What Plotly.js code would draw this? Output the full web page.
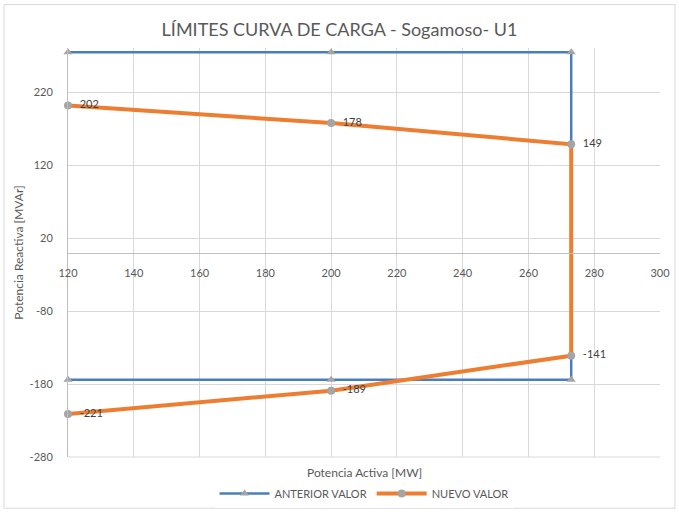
<!DOCTYPE html>
<html>
<head>
<meta charset="utf-8">
<script src="https://cdn.plot.ly/plotly-3.0.1.min.js"></script>
<style>
html,body{margin:0;padding:0;background:#fff;}
#chart{width:679px;height:520px;}
</style>
</head>
<body>
<div id="chart"></div>
<script>
// Data
const anteriorP = [120, 200, 273, 273, 200, 120];
const anteriorQ = [275, 275, 275, -174, -174, -174];
const nuevoP = [120, 200, 273, 273, 200, 120];
const nuevoQ = [202, 178, 149, -141, -189, -221];
const nuevoLabels = ["202", "178", "149", "-141", "-189", "-221"];
const seriesNames = ["ANTERIOR VALOR", "NUEVO VALOR"];
const xTicks = [120, 140, 160, 180, 200, 220, 240, 260, 280, 300];
const yTicks = [-280, -180, -80, 20, 120, 220];

const FONT = "Lato, 'Open Sans', sans-serif";
const W = 679, H = 520;
const m = {l: 68, r: 19, t: 48, b: 57};
const pw = W - m.l - m.r, ph = H - m.t - m.b;
const yRange = [-280, 281];
const zeroFrac = (0 - yRange[0]) / (yRange[1] - yRange[0]);

const traces = [
  {
    x: anteriorP, y: anteriorQ, name: seriesNames[0], type: 'scatter', mode: 'lines+markers',
    line: {color: '#4A7EBB', width: 2.5},
    marker: {symbol: 'triangle-up', size: 8, color: '#A5A5A5'},
    cliponaxis: false
  },
  {
    x: nuevoP, y: nuevoQ, name: seriesNames[1], type: 'scatter', mode: 'lines+markers+text',
    line: {color: '#ED7D31', width: 4},
    marker: {symbol: 'circle', size: 8, color: '#A5A5A5'},
    text: nuevoLabels.map(s => '  ' + s), textposition: 'middle right',
    textfont: {family: FONT, size: 11, color: '#404040'},
    cliponaxis: false
  }
];

const layout = {
  width: W, height: H,
  margin: m,
  paper_bgcolor: '#fff', plot_bgcolor: '#fff',
  font: {family: FONT, color: '#595959', size: 11},
  title: {text: 'LÍMITES CURVA DE CARGA - Sogamoso- U1', font: {family: FONT, size: 18, color: '#595959'}, x: 0.5, xanchor: 'center', y: 1 - 30/H, yanchor: 'middle'},
  xaxis: {
    range: [120, 300], tickvals: xTicks, ticktext: xTicks.map(String),
    anchor: 'free', position: zeroFrac,
    showgrid: true, gridcolor: '#D9D9D9', gridwidth: 1,
    showline: true, linecolor: '#BFBFBF', linewidth: 1,
    zeroline: false, ticks: '', ticklen: 0, ticklabelstandoff: 10,
    tickfont: {family: FONT, size: 11, color: '#595959'},
    fixedrange: true
  },
  yaxis: {
    range: yRange, tickvals: yTicks, ticktext: yTicks.map(String),
    showgrid: true, gridcolor: '#D9D9D9', gridwidth: 1,
    showline: true, linecolor: '#BFBFBF', linewidth: 1,
    zeroline: false, ticks: '', ticklabelstandoff: 12,
    tickfont: {family: FONT, size: 11, color: '#595959'},
    title: {text: 'Potencia Reactiva [MVAr]', font: {family: FONT, size: 12, color: '#595959'}, standoff: 3},
    fixedrange: true
  },
  showlegend: true,
  legend: {orientation: 'h', x: 0.5, xanchor: 'center', y: -(500 - m.t - ph)/ph, yanchor: 'middle',
           font: {family: FONT, size: 11, color: '#595959'}, itemwidth: 50, tracegroupgap: 0},
  annotations: [
    {text: 'Potencia Activa [MW]', xref: 'paper', yref: 'paper', x: 0.5, y: -(479 - m.t - ph)/ph,
     xanchor: 'center', yanchor: 'middle', showarrow: false, font: {family: FONT, size: 12, color: '#595959'}}
  ],
  shapes: [
    {type: 'line', xref: 'paper', yref: 'paper', x0: 0, x1: 1, y0: 0, y1: 0, line: {color: '#D9D9D9', width: 1}},
    {type: 'rect', xref: 'paper', yref: 'paper',
     x0: (4 - m.l)/pw, x1: (675 - m.l)/pw, y0: -(515 - m.t - ph)/ph, y1: 1 + (m.t - 4)/ph,
     line: {color: '#D9D9D9', width: 1}, fillcolor: 'rgba(0,0,0,0)'}
  ]
};

Plotly.newPlot('chart', traces, layout, {displayModeBar: false, staticPlot: true});
</script>
</body>
</html>
